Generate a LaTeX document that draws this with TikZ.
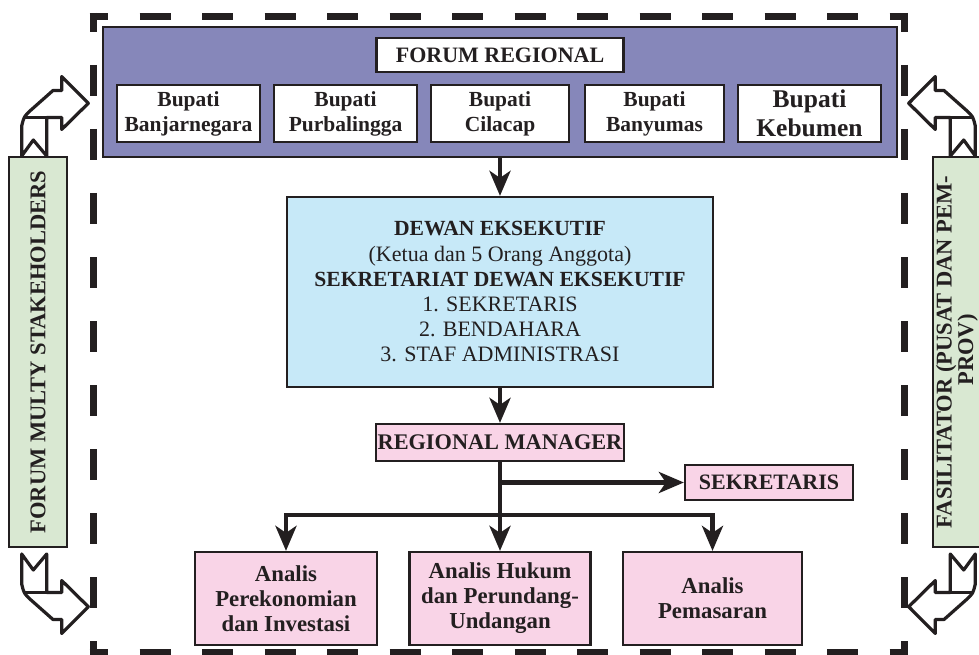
\documentclass[tikz,border=0pt]{standalone}
\usepackage{fontspec}
\setmainfont{Liberation Serif}
\usetikzlibrary{arrows.meta}
\definecolor{bordc}{RGB}{35,31,32}
\definecolor{purp}{RGB}{134,135,186}
\definecolor{cyanb}{RGB}{199,233,248}
\definecolor{pinkb}{RGB}{249,212,231}
\definecolor{greenb}{RGB}{217,232,210}
\newcommand\drawBentArrow{%
  \draw[draw=bordc, line width=3.2pt, fill=white, line join=round]
    (21.7,156) -- (33.3,140) -- (46.7,156) -- (46.7,117.5) -- (61.7,117.5)
    -- (61.7,129.5) -- (88.3,103.3) -- (61.7,76.5) -- (61.7,90.5) -- (53,90.5)
    -- (31,110) .. controls (24,116.5) .. (21.7,126) -- cycle;
  \draw[draw=bordc, line width=3.2pt] (23,117.5) -- (46.7,117.5);
}
\begin{document}
\begin{tikzpicture}[x=1pt,y=-1pt,
  bx/.style={draw=bordc, line width=2.2pt, inner sep=0pt, align=center, text=bordc,
    font=\bfseries\fontsize{21.5}{25}\selectfont},
  conn/.style={draw=bordc, line width=4.5pt, -{Stealth[length=25pt,width=21pt,inset=7pt]}},
  hdash/.style={draw=bordc, line width=7pt, dash pattern=on 31pt off 31.5pt, dash phase=12.5pt},
  vdash/.style={draw=bordc, line width=7pt, dash pattern=on 31pt off 33pt, dash phase=12pt}]
\clip (0,0) rectangle (979,655);
\fill[white] (0,0) rectangle (979,655);
% dashed frame
\draw[hdash] (89.5,16.5) -- (907.5,16.5);
\draw[hdash] (89.5,652) -- (907.5,652);
\draw[vdash] (93,13) -- (93,655.5);
\draw[vdash] (904,13) -- (904,655.5);
% forum regional
\node[bx, fill=purp, minimum width=794pt, minimum height=130pt] (forum) at (500,92) {};
\node[bx, fill=white, minimum width=247pt, minimum height=34pt,
  font=\bfseries\fontsize{22}{25}\selectfont] (fr) at (500,55) {FORUM REGIONAL};
\node[bx, fill=white, minimum width=143pt, minimum height=57pt] (b1) at (188.5,113.5) {Bupati\\Banjarnegara};
\node[bx, fill=white, minimum width=143pt, minimum height=57pt] (b2) at (345.5,113.5) {Bupati\\Purbalingga};
\node[bx, fill=white, minimum width=138pt, minimum height=57pt] (b3) at (500,113.5) {Bupati\\Cilacap};
\node[bx, fill=white, minimum width=139pt, minimum height=57pt] (b4) at (654.5,113.5) {Bupati\\Banyumas};
\node[bx, fill=white, minimum width=143pt, minimum height=57pt,
  font=\bfseries\fontsize{25.5}{29}\selectfont] (b5) at (809.5,113.5) {Bupati\\Kebumen};
% dewan
\node[bx, fill=cyanb, minimum width=426pt, minimum height=190pt,
  font=\mdseries\fontsize{22}{25.2}\selectfont] (dewan) at (500,292)
  {{\bfseries\fontsize{21.6}{25.2}\selectfont DEWAN EKSEKUTIF}\\
   (Ketua dan 5 Orang Anggota)\\
   {\bfseries\fontsize{21.6}{25.2}\selectfont SEKRETARIAT DEWAN EKSEKUTIF}\\
   1. SEKRETARIS\\
   2. BENDAHARA\\
   3. STAF ADMINISTRASI};
\node[bx, fill=pinkb, minimum width=248pt, minimum height=37pt,
  font=\bfseries\fontsize{22.3}{25}\selectfont] (rm) at (500,442.5) {REGIONAL MANAGER};
\node[bx, fill=pinkb, minimum width=168pt, minimum height=35pt,
  font=\bfseries\fontsize{22}{25}\selectfont] (sek) at (769,482.5) {SEKRETARIS};
\node[bx, fill=pinkb, minimum width=182pt, minimum height=93pt,
  font=\bfseries\fontsize{22.8}{25}\selectfont] (a1) at (286,598.5) {Analis\\Perekonomian\\dan Investasi};
\node[bx, fill=pinkb, minimum width=181pt, minimum height=93pt,
  font=\bfseries\fontsize{22.8}{25}\selectfont] (a2) at (500,598.5) {Analis Hukum\\dan Perundang-\\Undangan};
\node[bx, fill=pinkb, minimum width=179pt, minimum height=93pt,
  font=\bfseries\fontsize{22.8}{25}\selectfont] (a3) at (712.5,598.5) {Analis\\Pemasaran};
% side boxes
\node[bx, fill=greenb, rotate=90, minimum width=390pt, minimum height=58pt,
  font=\bfseries\fontsize{22.5}{21}\selectfont] (gl) at (38,352) {FORUM MULTY STAKEHOLDERS};
\node[bx, fill=greenb, rotate=90, minimum width=390pt, minimum height=58pt,
  font=\bfseries\fontsize{22.5}{20}\selectfont] (gr) at (962,352)
  {FASILITATOR (PUSAT DAN PEM-\\\hspace*{4pt}PROV)\rule[-15pt]{0pt}{0pt}};
% bent arrows
\drawBentArrow
\begin{scope}[shift={(0,710)}, yscale=-1] \drawBentArrow \end{scope}
\begin{scope}[shift={(997,0)}, xscale=-1] \drawBentArrow \end{scope}
\begin{scope}[shift={(997,710)}, xscale=-1, yscale=-1] \drawBentArrow \end{scope}
% connectors
\draw[conn] (forum.south) -- (dewan.north);
\draw[conn] (dewan.south) -- (rm.north);
\draw[conn] (rm.south) -- (a2.north);
\coordinate (sekj) at (500,482.5);
\draw[conn] (sekj) -- (sek.west);
\coordinate (brj) at (500,515);
\draw[conn] (brj) -| (a1.north);
\draw[conn] (brj) -| (a3.north);
\end{tikzpicture}
\end{document}
